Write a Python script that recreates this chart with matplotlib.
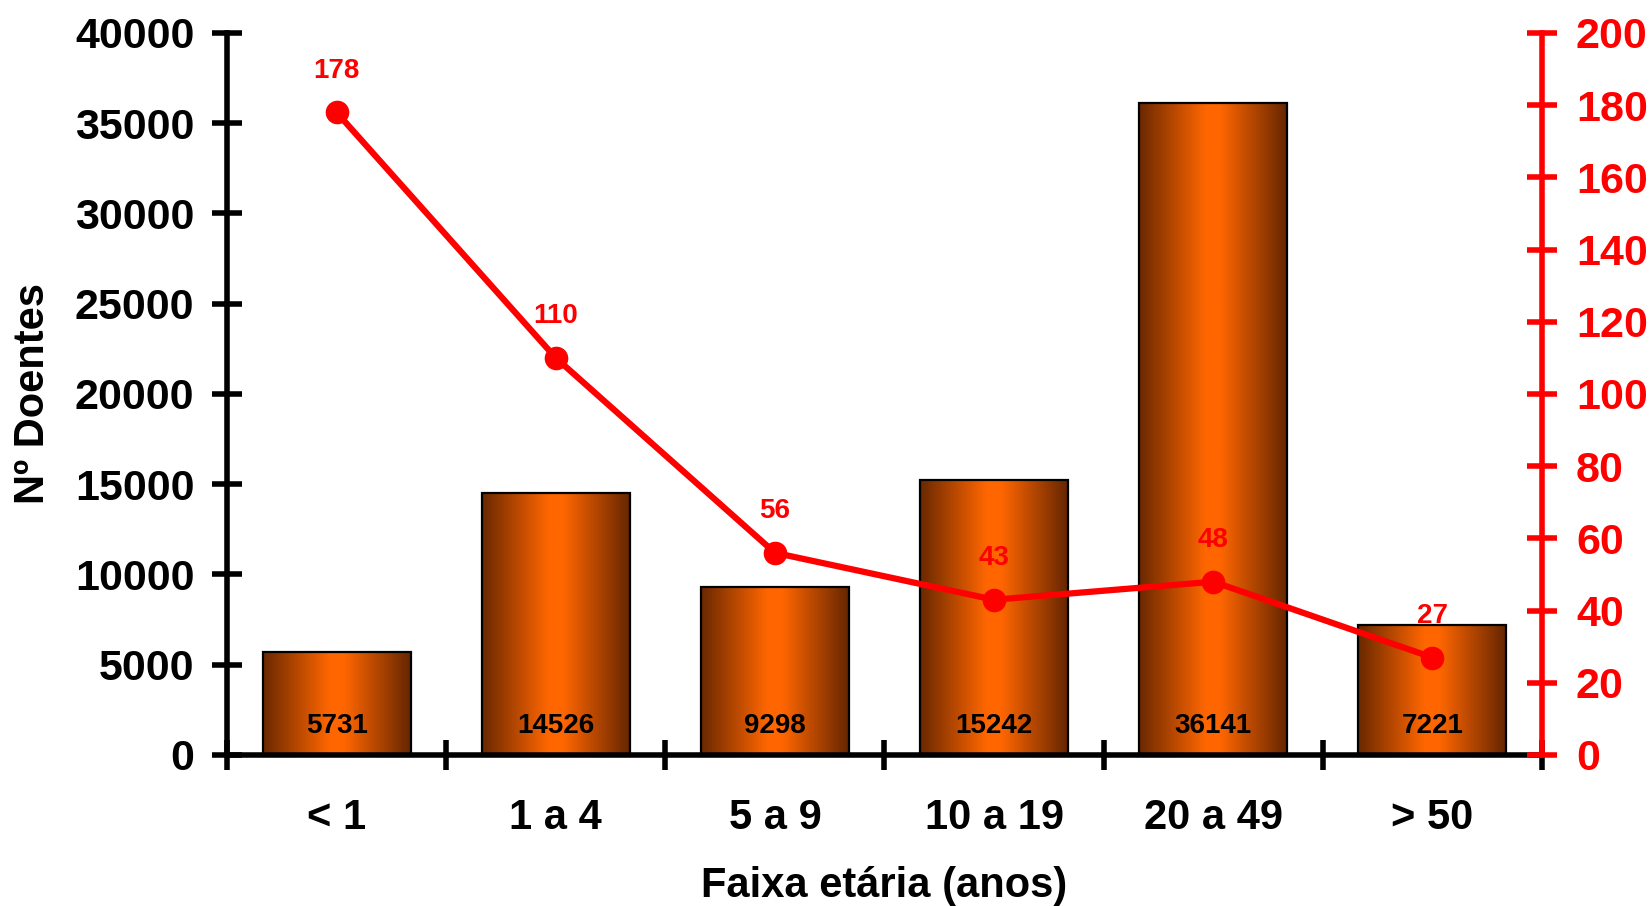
import numpy as np
import matplotlib.pyplot as plt
from matplotlib.colors import LinearSegmentedColormap

plt.rcParams['font.family'] = ['Liberation Sans', 'DejaVu Sans']
plt.rcParams['font.weight'] = 'bold'

# Age groups, number of patients (bars) and rate (line)
faixas = ['< 1', '1 a 4', '5 a 9', '10 a 19', '20 a 49', '> 50']
doentes = [5731, 14526, 9298, 15242, 36141, 7221]
taxa = [178, 110, 56, 43, 48, 27]

RED = '#ff0000'
bar_w = 0.675
x = np.arange(len(faixas))

fig = plt.figure(figsize=(16.5, 9.06), dpi=100)
ax = fig.add_axes([0.1376, 0.1667, 0.9345 - 0.1376, 0.9636 - 0.1667])

# horizontal gradient fill: dark brown at the edges, orange in the middle
cmap = LinearSegmentedColormap.from_list(
    'bronze', [(0, '#6a2800'), (0.45, '#ff6600'), (0.55, '#ff6600'), (1, '#662600')])
grad = np.linspace(0, 1, 256).reshape(1, -1)

bars = ax.bar(x, doentes, width=bar_w, facecolor='none', edgecolor='black',
              linewidth=1.6, zorder=3)
for b in bars:
    x0, y0 = b.get_x(), b.get_y()
    im = ax.imshow(grad, cmap=cmap, aspect='auto', zorder=2,
                   extent=[x0, x0 + b.get_width(), y0, y0 + b.get_height()])
    im.set_clip_path(b)

for xi, v in zip(x, doentes):
    ax.annotate(f'{v}', xy=(xi, 0), xytext=(0, 21), textcoords='offset points',
                ha='center', va='center', fontsize=20, fontweight='bold',
                color='black', zorder=4)

ax.set_xlim(-0.5, len(faixas) - 0.5)
ax.set_ylim(0, 40000)
ax.set_yticks(np.arange(0, 40001, 5000))
ax.set_xticks(np.arange(-0.5, len(faixas), 1.0))
ax.set_xticklabels([])
ax.set_xticks(x, minor=True)
ax.set_xticklabels(faixas, minor=True)
ax.tick_params(axis='x', which='minor', length=0, pad=31, labelsize=30)
ax.tick_params(axis='x', which='major', direction='inout', length=21, width=4)
ax.tick_params(axis='y', direction='inout', length=21, width=4, pad=13, labelsize=31)

for s in ['top', 'right']:
    ax.spines[s].set_visible(False)
for s in ['left', 'bottom']:
    ax.spines[s].set_linewidth(4)

ax.set_ylabel('Nº Doentes', fontsize=30, fontweight='bold', labelpad=16)
ax.set_xlabel('Faixa etária (anos)', fontsize=30, fontweight='bold', labelpad=20)

# secondary axis for the rate line
ax2 = ax.twinx()
ax2.set_ylim(0, 200)
ax2.set_yticks(np.arange(0, 201, 20))
ax2.plot(x, taxa, color=RED, linewidth=4.5, marker='o', markersize=16, zorder=5)
for xi, v in zip(x, taxa):
    ax2.annotate(f'{v}', xy=(xi, v), xytext=(0, 30), textcoords='offset points',
                 ha='center', va='center', fontsize=20, fontweight='bold', color=RED)

for s in ['top', 'left', 'bottom']:
    ax2.spines[s].set_visible(False)
ax2.spines['right'].set_color(RED)
ax2.spines['right'].set_linewidth(4)
ax2.tick_params(axis='y', colors=RED, direction='inout', length=21, width=4,
                pad=14, labelsize=31)
for t in ax2.get_yticklabels():
    t.set_fontweight('bold')

fig.savefig('out.png', dpi=100)
